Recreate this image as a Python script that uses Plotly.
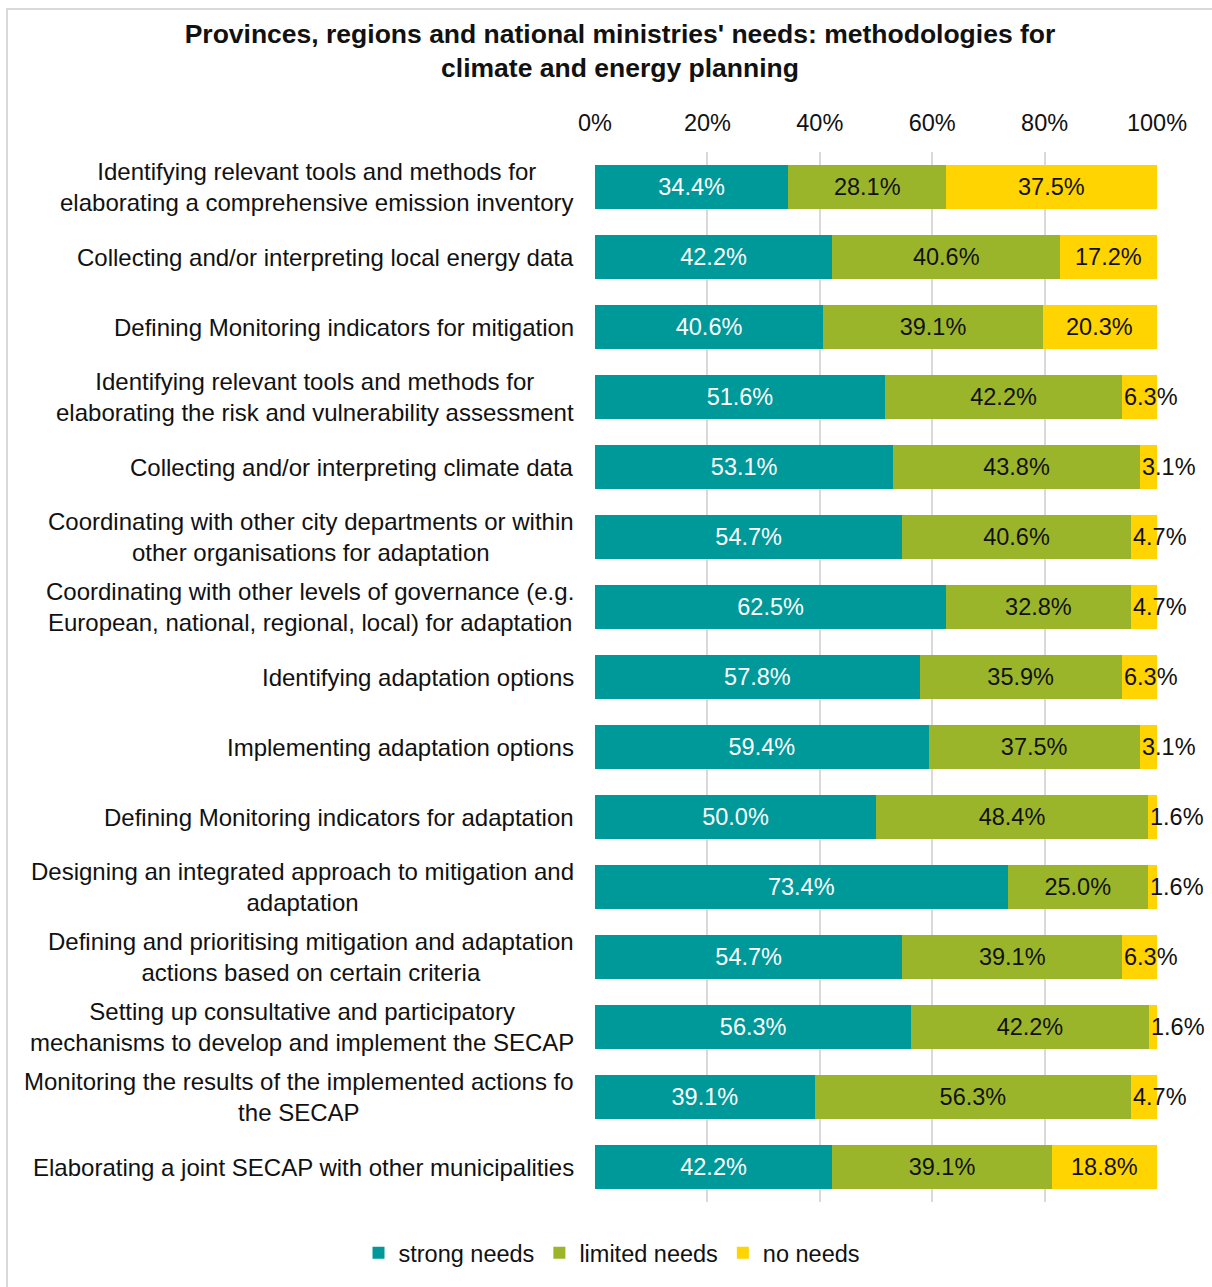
import plotly.graph_objects as go

# Survey answers (share of respondents, %), one entry per topic, top to bottom
topics = [
    "Identifying relevant tools and methods for<br>elaborating a comprehensive emission inventory",
    "Collecting and/or interpreting local energy data",
    "Defining Monitoring indicators for mitigation",
    "Identifying relevant tools and methods for<br>elaborating the risk and vulnerability assessment",
    "Collecting and/or interpreting climate data",
    "Coordinating with other city departments or within<br>other organisations for adaptation",
    "Coordinating with other levels of governance (e.g.<br>European, national, regional, local) for adaptation",
    "Identifying adaptation options",
    "Implementing adaptation options",
    "Defining Monitoring indicators for adaptation",
    "Designing an integrated approach to mitigation and<br>adaptation",
    "Defining and prioritising mitigation and adaptation<br>actions based on certain criteria",
    "Setting up consultative and participatory<br>mechanisms to develop and implement the SECAP",
    "Monitoring the results of the implemented actions fo<br>the SECAP",
    "Elaborating a joint SECAP with other municipalities",
]
strong_needs = [34.4, 42.2, 40.6, 51.6, 53.1, 54.7, 62.5, 57.8, 59.4, 50.0, 73.4, 54.7, 56.3, 39.1, 42.2]
limited_needs = [28.1, 40.6, 39.1, 42.2, 43.8, 40.6, 32.8, 35.9, 37.5, 48.4, 25.0, 39.1, 42.2, 56.3, 39.1]
no_needs = [37.5, 17.2, 20.3, 6.3, 3.1, 4.7, 4.7, 6.3, 3.1, 1.6, 1.6, 6.3, 1.6, 4.7, 18.8]

series_names = ["strong needs", "limited needs", "no needs"]
series_colors = ["#00999A", "#9BB52B", "#FFD400"]
x_ticks = [0, 20, 40, 60, 80, 100]
x_tick_labels = ["0%", "20%", "40%", "60%", "80%", "100%"]

FONT = "Liberation Sans, Arial, sans-serif"
FS = 23.5
W, H = 1212, 1287
ML, MR, MT, MB = 595, 55, 152, 82
PW, PH = W - ML - MR, H - MT - MB


def px_to_paper_x(px):
    return (px - ML) / PW


def px_to_paper_y(py):
    return (H - MB - py) / PH


fig = go.Figure()

fig.add_trace(go.Bar(
    y=topics, x=strong_needs, orientation="h", name=series_names[0],
    marker=dict(color=series_colors[0], line=dict(width=0)),
    text=[f"{v:.1f}%" for v in strong_needs], textposition="inside",
    insidetextanchor="middle", textangle=0,
    insidetextfont=dict(family=FONT, size=FS, color="white"),
    hoverinfo="skip",
))
fig.add_trace(go.Bar(
    y=topics, x=limited_needs, orientation="h", name=series_names[1],
    marker=dict(color=series_colors[1], line=dict(width=0)),
    text=[f"{v:.1f}%" for v in limited_needs], textposition="inside",
    insidetextanchor="middle", textangle=0,
    insidetextfont=dict(family=FONT, size=FS, color="#111111"),
    hoverinfo="skip",
))
fig.add_trace(go.Bar(
    y=topics, x=no_needs, orientation="h", name=series_names[2],
    marker=dict(color=series_colors[2], line=dict(width=0)),
    hoverinfo="skip",
))

annotations = []
# "no needs" labels: centred in wide segments, starting at the segment edge in narrow ones
for topic, s, l, n in zip(topics, strong_needs, limited_needs, no_needs):
    start = s + l
    if n >= 10:
        annotations.append(dict(x=start + n / 2, y=topic, xref="x", yref="y",
                                text=f"{n:.1f}%", showarrow=False, xanchor="center",
                                font=dict(family=FONT, size=FS, color="#111111")))
    else:
        annotations.append(dict(x=start, y=topic, xref="x", yref="y",
                                text=f"{n:.1f}%", showarrow=False, xanchor="left", xshift=0,
                                font=dict(family=FONT, size=FS, color="#111111")))

# category labels, right-aligned block with centred lines
for topic in topics:
    annotations.append(dict(x=0, y=topic, xref="paper", yref="y", text=topic,
                            showarrow=False, xanchor="right", align="center", xshift=-19,
                            font=dict(family=FONT, size=24, color="#111111")))

fig.update_layout(
    width=W, height=H,
    margin=dict(l=ML, r=MR, t=MT, b=MB, pad=0),
    paper_bgcolor="white", plot_bgcolor="white",
    barmode="stack", bargap=0.36,
    title=dict(
        text="<b>Provinces, regions and national ministries' needs: methodologies for<br>climate and energy planning</b>",
        x=620 / W, xanchor="center", y=1 - 43 / H, yanchor="middle", yref="container",
        font=dict(family=FONT, size=26.5, color="#111111"),
    ),
    xaxis=dict(
        side="top", range=[0, 100], tickvals=x_ticks, ticktext=x_tick_labels,
        showgrid=True, gridcolor="#d9d9d9", gridwidth=2, zeroline=False,
        showline=False, ticks="", ticklabelstandoff=15,
        tickfont=dict(family=FONT, size=FS, color="#111111"),
    ),
    yaxis=dict(
        autorange="reversed", showticklabels=False, showgrid=False,
        zeroline=False, showline=False, ticks="",
    ),
    legend=dict(
        orientation="h", x=px_to_paper_x(612), xanchor="center",
        y=px_to_paper_y(1256), yanchor="middle",
        font=dict(family=FONT, size=FS, color="#111111"),
        traceorder="normal", itemclick=False, itemdoubleclick=False,
    ),
    annotations=annotations,
    shapes=[dict(type="rect", xref="paper", yref="paper",
                 x0=px_to_paper_x(7), x1=px_to_paper_x(1220),
                 y0=px_to_paper_y(1295), y1=px_to_paper_y(8.5),
                 line=dict(color="#d9d9d9", width=2), fillcolor="rgba(0,0,0,0)", layer="below")],
    showlegend=True,
)

fig.write_html("out.html")
